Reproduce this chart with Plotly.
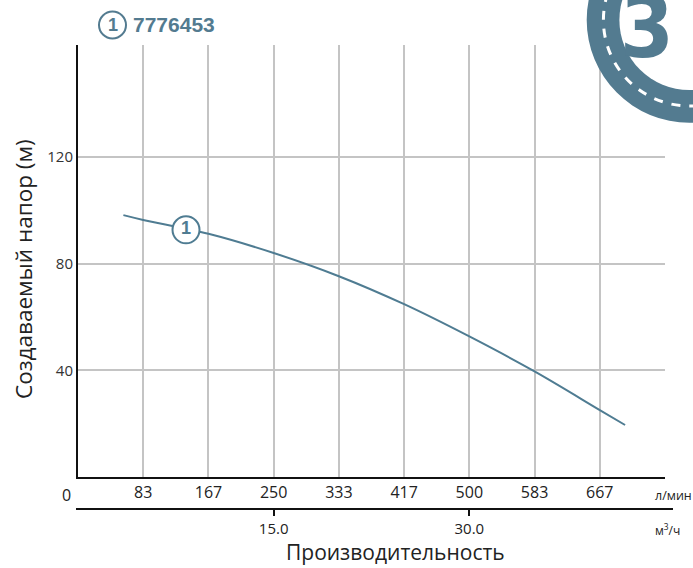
import plotly.graph_objects as go

# ---- data ----
flow_lpm = [58, 83.3, 166.7, 250, 333.3, 416.7, 500, 583.3, 666.7, 699]
head_m = [98.2, 96.4, 91.2, 84.0, 75.3, 64.8, 52.7, 39.6, 25.1, 19.5]

x_tick_vals = [83.33, 166.67, 250, 333.33, 416.67, 500, 583.33, 666.67]
x_tick_text = ["83", "167", "250", "333", "417", "500", "583", "667"]
x2_tick_vals = [250, 500]
x2_tick_text = ["15.0", "30.0"]
y_tick_vals = [40, 80, 120]
y_tick_text = ["40", "80", "120"]

curve_label_flow = [138]
curve_label_head = [92.7]
model_name = "7776453"

BLUE = "#4f7c92"
LOGO = "#537b90"
GRID = "#c4c4c4"
TXT = "Open Sans, sans-serif"
COND = "DejaVu Sans Condensed, Liberation Sans Narrow, Roboto Condensed, Roboto, sans-serif"

W, H = 693, 568
L, R, T, B = 78, 28, 45, 59
pw, ph = W - L - R, H - T - B


def px(x):
    return (x - L) / pw


def py(y):
    return (H - B - y) / ph


fig = go.Figure()
fig.add_trace(go.Scatter(x=flow_lpm, y=head_m, mode="lines",
                         line=dict(color=BLUE, width=2, shape="spline"),
                         hoverinfo="skip", showlegend=False))
fig.add_trace(go.Scatter(x=curve_label_flow, y=curve_label_head, mode="markers+text",
                         marker=dict(size=27, color="white", line=dict(color=BLUE, width=2)),
                         text=["1"], textposition="middle center",
                         textfont=dict(family="Liberation Sans, Arial", size=18, color=BLUE, weight="bold"),
                         hoverinfo="skip", showlegend=False))
# secondary axis carrier trace
fig.add_trace(go.Scatter(x=[250, 500], y=[0, 0], xaxis="x2", mode="markers",
                         marker=dict(opacity=0), showlegend=False, hoverinfo="skip"))

axis_bottom = 477
fig.update_layout(
    width=W, height=H,
    margin=dict(l=L, r=R, t=T, b=B),
    plot_bgcolor="white", paper_bgcolor="white",
    xaxis=dict(range=[0, 750], tickvals=x_tick_vals, ticktext=x_tick_text,
               showgrid=True, gridcolor=GRID, gridwidth=1.5, zeroline=False,
               showline=True, linecolor="#111", linewidth=2, ticks="",
               tickfont=dict(family=TXT, size=16, color="#222"),
               anchor="y", fixedrange=True),
    xaxis2=dict(range=[0, 750], overlaying="x", anchor="free", position=0,
                tickvals=x2_tick_vals, ticktext=x2_tick_text, side="bottom",
                showgrid=False, zeroline=False, showline=False,
                ticks="outside", ticklen=6, tickcolor="#111", tickwidth=1.5,
                tickfont=dict(family=TXT, size=15, color="#222")),
    yaxis=dict(range=[0, 162], domain=[py(axis_bottom), 1], tickvals=y_tick_vals,
               ticktext=y_tick_text, showgrid=True, gridcolor=GRID, gridwidth=1.5,
               zeroline=False, showline=True, linecolor="#111", linewidth=2, ticks="",
               tickfont=dict(family=TXT, size=15, color="#333"),
               fixedrange=True),
)

shapes = []
shapes.append(dict(type="line", xref="paper", yref="paper", x0=px(76), x1=px(673),
                   y0=0, y1=0, line=dict(color="#111", width=2)))
shapes.append(dict(type="circle", xref="paper", yref="paper", layer="above",
                   x0=px(586.7), x1=px(792.1), y0=py(122.7), y1=py(-82.7),
                   fillcolor=LOGO, line=dict(width=0)))
shapes.append(dict(type="circle", xref="paper", yref="paper", layer="above",
                   x0=px(603.4), x1=px(775.4), y0=py(106), y1=py(-66),
                   line=dict(color="white", width=3, dash="dash")))
shapes.append(dict(type="circle", xref="paper", yref="paper", layer="above",
                   x0=px(619.4), x1=px(759.4), y0=py(90), y1=py(-50),
                   fillcolor="white", line=dict(width=0)))
shapes.append(dict(type="circle", xref="paper", yref="paper",
                   x0=px(99), x1=px(126), y0=py(38.5), y1=py(11.5),
                   fillcolor="white", line=dict(color=LOGO, width=2)))
fig.update_layout(shapes=shapes)

ann = []
ann.append(dict(xref="paper", yref="paper", x=px(112.5), y=py(25.5), text="1", showarrow=False,
                xanchor="center", yanchor="middle",
                font=dict(family="Liberation Sans, Arial", size=18, color=LOGO, weight="bold")))
ann.append(dict(xref="paper", yref="paper", x=px(131), y=py(25), text=model_name, showarrow=False,
                xanchor="left", yanchor="middle",
                font=dict(family="Liberation Sans, Arial", size=21, color=LOGO, weight="bold")))
ann.append(dict(xref="paper", yref="paper", x=px(647), y=py(27), text="3", showarrow=False,
                xanchor="center", yanchor="middle",
                font=dict(family=COND, size=86, color=LOGO, weight="bold")))
ann.append(dict(xref="paper", yref="paper", x=px(66), y=py(495), text="0", showarrow=False,
                xanchor="center", yanchor="middle",
                font=dict(family=TXT, size=16, color="#222")))
ann.append(dict(xref="paper", yref="paper", x=px(653), y=py(495), text="л/мин", showarrow=False,
                xanchor="left", yanchor="middle",
                font=dict(family=TXT, size=12.5, color="#222")))
ann.append(dict(xref="paper", yref="paper", x=px(653), y=py(530), text="м<sup>3</sup>/ч", showarrow=False,
                xanchor="left", yanchor="middle",
                font=dict(family=TXT, size=12, color="#222")))
ann.append(dict(xref="paper", yref="paper", x=px(395), y=py(568), text="Производительность",
                showarrow=False, xanchor="center", yanchor="bottom",
                font=dict(family=TXT, size=21, color="#222")))
ann.append(dict(xref="paper", yref="paper", x=px(23), y=py(269), text="Создаваемый напор (м)",
                showarrow=False, xanchor="center", yanchor="middle", textangle=-90,
                font=dict(family=TXT, size=22.5, color="#222")))
fig.update_layout(annotations=ann)

fig.write_html("out.html", config={"displayModeBar": False},
               post_script="document.body.style.margin='0';document.body.style.overflow='hidden';")
